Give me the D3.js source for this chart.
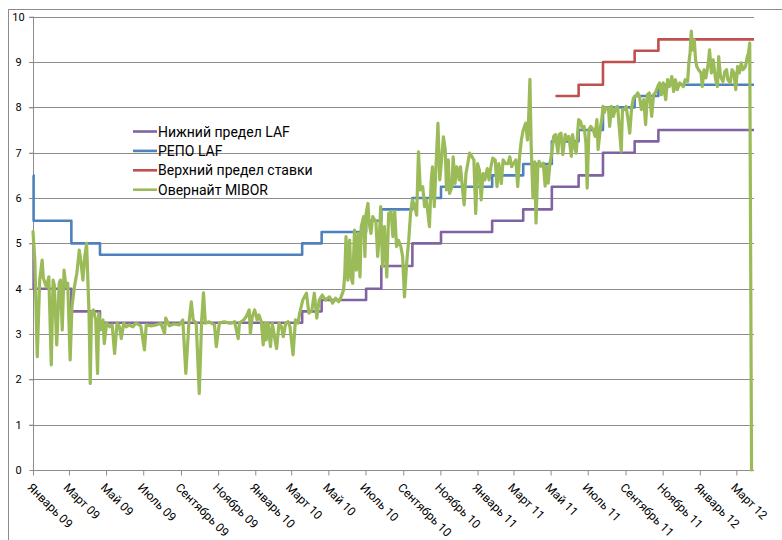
<!DOCTYPE html>
<html><head><meta charset="utf-8">
<script src="https://cdn.jsdelivr.net/npm/d3@7"></script>
<style>body{margin:0;background:#fff}svg{display:block}</style>
</head><body><svg id="c" width="782" height="540"></svg>
<script>
// ---------- DATA ----------
const seriesNames = ["Нижний предел LAF", "РЕПО LAF", "Верхний предел ставки", "Овернайт MIBOR"];
const seriesColors = ["#8064A2", "#4F81BD", "#C0504D", "#9BBB59"];
const yTicks = [0,1,2,3,4,5,6,7,8,9,10];
const xTickDates = ["2009-01-01","2009-03-01","2009-05-01","2009-07-01","2009-09-01","2009-11-01",
  "2010-01-01","2010-03-01","2010-05-01","2010-07-01","2010-09-01","2010-11-01",
  "2011-01-01","2011-03-01","2011-05-01","2011-07-01","2011-09-01","2011-11-01",
  "2012-01-01","2012-03-01"];
const xTickLabels = ["Январь 09","Март 09","Май 09","Июль 09","Сентябрь 09","Ноябрь 09",
  "Январь 10","Март 10","Май 10","Июль 10","Сентябрь 10","Ноябрь 10",
  "Январь 11","Март 11","Май 11","Июль 11","Сентябрь 11","Ноябрь 11",
  "Январь 12","Март 12"];
const axisStart = "2009-01-01", axisEnd = "2012-03-30";

// Reverse repo (lower LAF bound): change dates and rates
const reverseRepoDates = ["2009-01-01","2009-01-02","2009-03-05","2009-04-21","2010-03-19","2010-04-20","2010-07-02","2010-07-27","2010-09-16","2010-11-02","2011-01-25","2011-03-17","2011-05-03","2011-06-16","2011-07-26","2011-09-16","2011-10-25","2012-03-30"];
const reverseRepoRates = [5.0,4.0,3.5,3.25,3.5,3.75,4.0,4.5,5.0,5.25,5.5,5.75,6.25,6.5,7.0,7.25,7.5,7.5];
// Repo LAF
const repoDates = ["2009-01-01","2009-01-02","2009-03-05","2009-04-21","2010-03-19","2010-04-20","2010-07-02","2010-07-27","2010-09-16","2010-11-02","2011-01-25","2011-03-17","2011-05-03","2011-06-16","2011-07-26","2011-09-16","2011-10-25","2012-03-30"];
const repoRates = [6.5,5.5,5.0,4.75,5.0,5.25,5.5,5.75,6.0,6.25,6.5,6.75,7.25,7.5,8.0,8.25,8.5,8.5];
// Upper bound (MSF)
const msfDates = ["2011-05-09","2011-06-16","2011-07-26","2011-09-16","2011-10-25","2012-03-30"];
const msfRates = [8.25,8.5,9.0,9.25,9.5,9.5];

// Overnight MIBOR: days since 2009-01-01 and rate, %
const miborDays = [
0,3,7,11,15,17,22,26,30,33, 35,39,43,45,48,51,54,57,61,64,
68,72,76,79,82,85,88,92,94,96, 99,103,106,108,111,115,117,121,126,130,
134,138,142,145,149,153,158,164,169,177, 183,186,194,202,210,216,218,224,232,240,
246,251,256,260,263,268,273,277,280,283, 289,298,301,306,314,322,326,331,337,339,
346,350,355,357,360,364,368,371,375,378, 381,383,386,390,393,397,400,404,408,411,
415,419,422,427,431,435,438,443,449,453, 458,462,466,470,475,480,487,492,497,502,
506,510,512,514,517,520,522,525,528,531, 534,537,539,543,545,547,550,552,555,558,
561,563,566,569,571,574,577,581,584,588, 591,594,597,600,604,607,610,614,617,620,
623,627,630,633,636,640,643,646,651,654, 656,659,662,665,668,671,674,677,679,682,
684,688,690,693,696,700,702,705,708,711, 714,717,721,724,727,730,733,736,739,742,
746,749,752,755,759,762,765,769,772,776, 780,783,786,789,793,796,799,802,805,809,
812,814,816,818,821,824,826,829,831,834, 838,841,843,846,849,852,855,858,862,864,
867,870,874,877,880,884,886,889,892,896, 899,902,905,908,910,913,916,920,923,926,
928,932,934,936,938,941,945,947,950,953, 957,960,963,966,968,971,974,978,980,983,
986,990,993,996,999,1003,1006,1009,1012,1016, 1019,1022,1026,1029,1032,1035,1039,1042,1045,1049,
1052,1055,1058,1062,1065,1068,1071,1075,1077,1079, 1081,1083,1086,1088,1090,1093,1097,1099,1102,1105,
1109,1111,1114,1117,1121,1124,1126,1129,1133,1136, 1139,1141,1145,1148,1151,1154,1157,1160,1163,1166,
1170,1173,1175,1177,1180];
const miborRates = [
5.26,4.63,2.50,4.19,4.63,4.23,4.04,4.26,2.32,4.19, 4.08,2.76,4.12,4.19,3.09,4.41,4.04,4.12,2.43,3.60,
4.04,4.34,4.85,4.56,4.19,4.71,5.00,3.46,1.91,3.46, 3.53,3.31,2.13,3.46,3.09,3.31,2.79,3.24,3.16,3.20,
2.57,3.24,3.16,2.90,3.24,3.16,3.20,3.16,3.24,3.18, 2.65,3.20,3.18,3.20,3.24,3.01,3.35,3.18,3.22,3.20,
3.31,2.13,3.24,3.71,3.31,3.24,1.69,3.31,3.91,3.24, 3.27,3.20,2.72,3.24,3.27,3.24,3.24,3.27,2.90,3.24,
3.31,3.38,3.53,3.01,3.38,3.53,3.31,3.42,3.27,2.76, 3.24,2.87,3.24,2.72,3.24,2.90,2.68,3.24,3.16,2.94,
3.24,3.27,3.16,2.54,3.31,3.24,3.46,3.75,3.90,3.46, 3.53,3.90,3.35,3.75,3.86,3.75,3.82,3.68,3.79,3.71,
3.82,3.97,4.34,5.15,4.19,5.07,4.26,4.12,5.29,4.41, 5.22,4.26,5.37,5.59,4.71,5.66,5.88,5.44,5.22,5.59,
5.51,5.51,4.71,5.22,5.81,4.49,5.37,4.26,5.66,5.70, 5.15,5.70,4.93,5.07,4.93,4.71,3.82,4.63,5.07,5.66,
5.96,5.81,5.62,7.02,6.18,6.25,5.81,5.96,5.37,6.40, 6.69,5.81,6.76,7.65,6.40,6.84,7.35,7.06,6.18,6.84,
6.10,6.25,6.91,6.32,6.69,6.40,6.69,6.25,5.85,6.54, 6.76,6.99,6.91,6.84,5.66,6.76,6.62,5.96,6.54,6.40,
6.65,6.40,6.69,6.88,6.84,6.25,6.76,6.32,6.84,6.76, 6.76,6.91,6.69,6.76,6.84,6.25,6.91,7.28,7.50,7.65,
7.28,7.79,8.62,7.20,6.00,6.80,5.45,6.70,6.81,6.70, 6.77,6.26,6.70,6.33,6.77,6.99,7.36,7.40,6.99,7.40,
7.43,6.96,7.40,7.29,7.36,6.92,7.40,7.14,6.99,7.73, 7.69,7.54,7.58,7.21,6.22,7.51,7.58,7.51,7.36,7.73,
7.07,7.58,7.73,8.02,7.88,7.99,7.99,7.58,8.02,7.80, 7.99,8.02,7.51,7.03,7.95,7.95,8.02,7.65,7.43,7.99,
8.21,8.24,8.32,8.24,7.95,8.17,7.62,8.28,8.32,7.80, 8.28,8.32,8.46,8.54,8.28,8.54,8.17,8.61,8.46,8.68,
8.35,8.61,8.39,8.54,8.50,8.46,8.61,8.57,8.98,9.20, 9.68,9.27,9.49,9.05,8.90,8.83,8.76,8.46,8.83,8.65,
8.98,9.27,8.76,9.05,8.61,8.46,9.12,8.68,8.57,8.79, 8.83,8.61,8.54,8.83,8.76,8.39,8.90,8.76,8.98,8.83,
8.90,9.12,9.20,9.42,0];

// ---------- CHART ----------
const FONT = "Roboto, 'Noto Sans', sans-serif";
const parse = d3.timeParse("%Y-%m-%d");
const t0 = parse(axisStart), t1 = parse(axisEnd);
const svg = d3.select("#c");

const x = d3.scaleTime().domain([t0, t1]).range([33, 754]);
const y = d3.scaleLinear().domain([0, 10]).range([470, 16.7]);

// outer chart border
svg.append("rect").attr("x", 8.5).attr("y", 9.5).attr("width", 900).attr("height", 700)
  .attr("fill", "none").attr("stroke", "#8c8c8c").attr("stroke-width", 1);

// gridlines
svg.append("g").selectAll("line").data(yTicks.filter(v => v > 0)).join("line")
  .attr("x1", 29).attr("x2", 754)
  .attr("y1", d => Math.round(y(d)) + 0.5).attr("y2", d => Math.round(y(d)) + 0.5)
  .attr("stroke", "#8c8c8c").attr("stroke-width", 1);

// y axis
const yAxis = d3.axisLeft(y).tickValues(yTicks).tickSize(4).tickPadding(0).tickFormat(d3.format("d"));
const gy = svg.append("g").attr("transform", "translate(33.5,0)").call(yAxis);
gy.select(".domain").attr("stroke", "#8c8c8c").attr("d", `M0,${y(10)}V${y(0)}`);
gy.selectAll(".tick line").attr("stroke", "#8c8c8c");
gy.selectAll(".tick text").attr("x", -15).attr("text-anchor", "middle")
  .attr("font-family", FONT).attr("font-size", 11).attr("fill", "#000");

// x axis
const tickDates = xTickDates.map(parse);
const xAxis = d3.axisBottom(x).tickValues(tickDates).tickSize(5).tickFormat((d, i) => xTickLabels[i]);
const gx = svg.append("g").attr("transform", "translate(0,470.5)").call(xAxis);
gx.select(".domain").attr("stroke", "#8c8c8c").attr("d", `M${x(t0)},0H${x(t1)}`);
gx.selectAll(".tick line").attr("stroke", "#8c8c8c");
gx.selectAll(".tick text")
  .attr("font-family", FONT).attr("font-size", 12).attr("fill", "#000")
  .attr("text-anchor", "start").attr("y", 0).attr("dy", "0.78em")
  .attr("transform", "translate(0,11) rotate(45)");

// step lines
const stepLine = d3.line().x(d => x(d[0])).y(d => y(d[1])).curve(d3.curveStepAfter);
const toPairs = (dates, rates) => dates.map((d, i) => [parse(d), rates[i]]);
const stepSeries = [
  toPairs(reverseRepoDates, reverseRepoRates),
  toPairs(repoDates, repoRates),
  toPairs(msfDates, msfRates)
];
stepSeries.forEach((s, i) => {
  svg.append("path").datum(s).attr("d", stepLine)
    .attr("fill", "none").attr("stroke", seriesColors[i]).attr("stroke-width", 2.6)
    .attr("stroke-linejoin", "round");
});

// MIBOR
const mibor = miborDays.map((d, i) => [d3.timeDay.offset(t0, d), miborRates[i]]);
const line = d3.line().x(d => x(d[0])).y(d => y(d[1]));
svg.append("path").datum(mibor).attr("d", line)
  .attr("fill", "none").attr("stroke", seriesColors[3]).attr("stroke-width", 3.2)
  .attr("stroke-linejoin", "round").attr("stroke-linecap", "round");

// legend
const lg = svg.append("g").attr("font-family", FONT).attr("font-size", 14);
seriesNames.forEach((name, i) => {
  const yy = 131.5 + i * 19.4;
  lg.append("line").attr("x1", 133).attr("x2", 157).attr("y1", yy).attr("y2", yy)
    .attr("stroke", seriesColors[i]).attr("stroke-width", 2.6);
  lg.append("text").attr("x", 158).attr("y", yy).attr("dy", "0.36em").attr("fill", "#000").text(name);
});
</script></body></html>
